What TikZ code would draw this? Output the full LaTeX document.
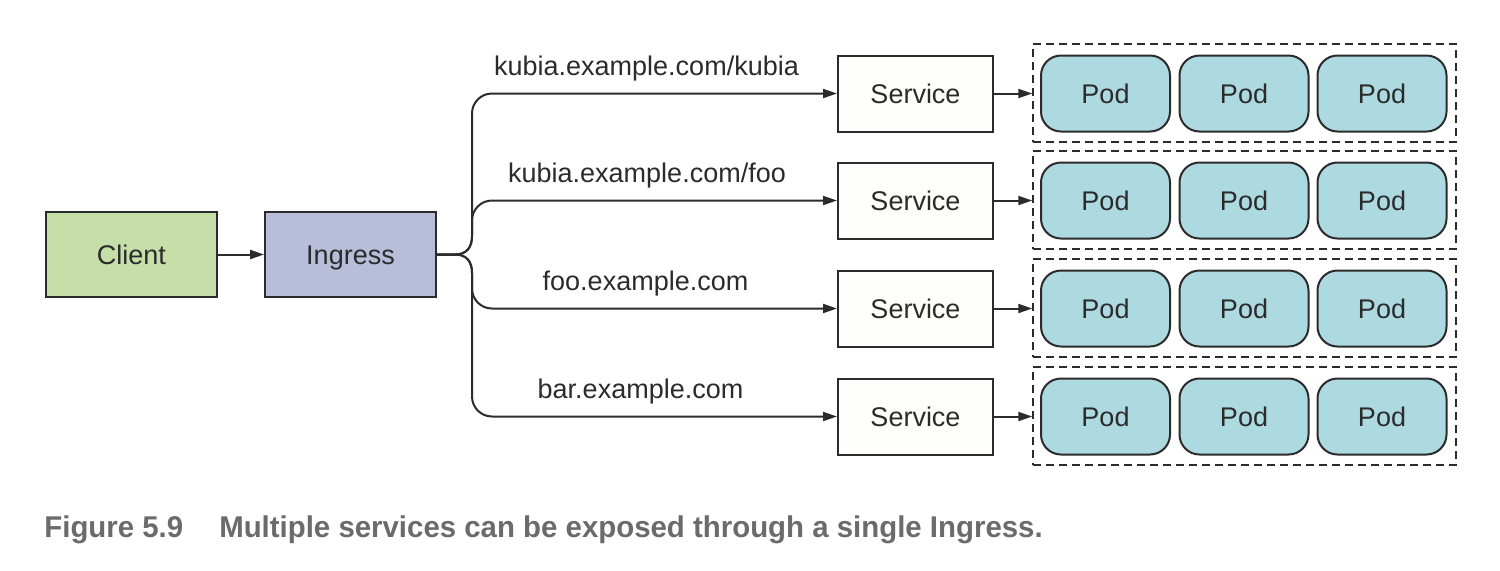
\documentclass[tikz,border=0pt]{standalone}
\usepackage{fontspec}
\setmainfont{Liberation Sans}
\newfontfamily\capfont[FakeStretch=0.98]{Liberation Sans}
\usetikzlibrary{arrows.meta}
\definecolor{clientfill}{HTML}{C6DFA9}
\definecolor{ingressfill}{HTML}{B8BDD9}
\definecolor{podfill}{HTML}{ADD9E0}
\definecolor{svcfill}{HTML}{FEFEFA}
\definecolor{linec}{HTML}{2B2B2B}
\definecolor{capgray}{HTML}{6B6B6B}
\begin{document}
\begin{tikzpicture}[x=0.5pt,y=-0.5pt,
  txt/.style={font=\fontsize{13.5pt}{16pt}\selectfont,text=linec},
  box/.style={txt,draw=linec,line width=1pt,inner sep=0pt,text height=9.7pt,text depth=0pt},
  bigbox/.style={box,minimum width=85.5pt,minimum height=42.5pt},
  svc/.style={box,fill=svcfill,minimum width=77.5pt,minimum height=38pt},
  pod/.style={box,fill=podfill,rounded corners=10pt,minimum width=64.5pt,minimum height=38pt},
  grp/.style={draw=linec,line width=0.75pt,dash pattern=on 4pt off 2.5pt,minimum width=211.5pt,minimum height=49pt,inner sep=0pt},
  arr/.style={draw=linec,line width=1pt,-{Triangle[length=7pt,width=4.5pt]}},
  lbl/.style={txt,anchor=base,inner sep=0pt}
]
\useasboundingbox (0,0) rectangle (1500,570);

\node[bigbox,fill=clientfill] (client) at (131.5,254.5) {Client};
\node[bigbox,fill=ingressfill] (ingress) at (350.5,254.5) {Ingress};
\draw[arr] (client.east) -- (ingress.east -| ingress.west);

\coordinate (j) at (455,254.5);

\foreach \i/\y/\lx/\lab in {1/93.5/646.5/kubia.example.com\slash kubia, 2/200.5/647/kubia.example.com\slash foo, 3/308.5/645.5/foo.example.com, 4/416.5/640.5/bar.example.com}{
  \node[svc] (s\i) at (915.5,\y) {Service};
  \node[grp] (g\i) at (1244.5,\y-0.5) {};
  \node[pod] (p\i a) at (1105.5,\y) {Pod};
  \node[pod] (p\i b) at (1244,\y) {Pod};
  \node[pod] (p\i c) at (1382,\y) {Pod};
  \draw[arr] (s\i.east) -- (s\i.east -| g\i.west);
  \node[lbl] (l\i) at (\lx,\y-18.5) {\lab};
}

\draw[arr] (ingress.east) -- (j) .. controls (467,254.5) and (472,247) .. (472,236)
  [rounded corners=10pt] -- (472,93.5) -- (s1.west);
\draw[arr] (ingress.east) -- (j) .. controls (467,254.5) and (472,247) .. (472,236)
  [rounded corners=10pt] -- (472,200.5) -- (s2.west);
\draw[arr] (ingress.east) -- (j) .. controls (467,254.5) and (472,262) .. (472,273)
  [rounded corners=10pt] -- (472,308.5) -- (s3.west);
\draw[arr] (ingress.east) -- (j) .. controls (467,254.5) and (472,262) .. (472,273)
  [rounded corners=10pt] -- (472,416.5) -- (s4.west);

\node[anchor=base west,inner sep=0pt,text=capgray,font=\capfont\bfseries\fontsize{15pt}{17pt}\selectfont] (cap) at (44,537)
  {Figure 5.9\hspace{18pt}Multiple services can be exposed through a single Ingress.};
\end{tikzpicture}
\end{document}
